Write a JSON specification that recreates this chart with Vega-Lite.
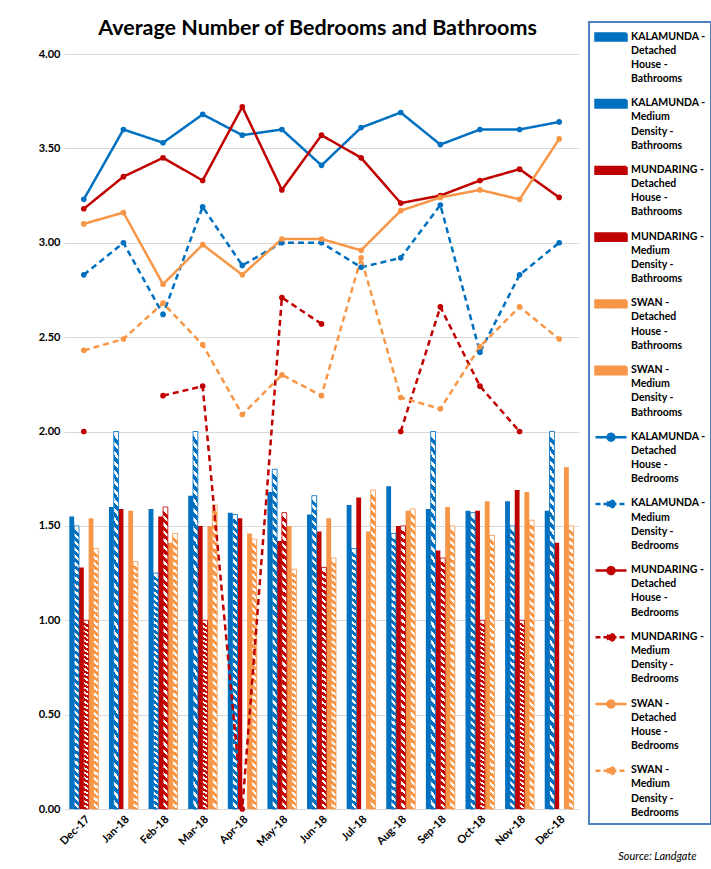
{
  "$schema": "https://vega.github.io/schema/vega-lite/v6.json",
  "width": 515,
  "height": 755,
  "padding": {"left": 38, "top": 17, "right": 2, "bottom": 5},
  "background": "white",
  "title": {"text": "Average Number of Bedrooms and Bathrooms", "font": "Lato", "fontSize": 21.5, "fontWeight": "bold", "color": "#000000", "frame": "group", "anchor": "middle", "baseline": "bottom", "offset": -18, "dx": -4, "dy": 22},
  "data": {"values": [
    {"month":"Dec-17","series":"KALAMUNDA - Detached House - Bathrooms","value":1.55},
    {"month":"Jan-18","series":"KALAMUNDA - Detached House - Bathrooms","value":1.60},
    {"month":"Feb-18","series":"KALAMUNDA - Detached House - Bathrooms","value":1.59},
    {"month":"Mar-18","series":"KALAMUNDA - Detached House - Bathrooms","value":1.66},
    {"month":"Apr-18","series":"KALAMUNDA - Detached House - Bathrooms","value":1.57},
    {"month":"May-18","series":"KALAMUNDA - Detached House - Bathrooms","value":1.68},
    {"month":"Jun-18","series":"KALAMUNDA - Detached House - Bathrooms","value":1.56},
    {"month":"Jul-18","series":"KALAMUNDA - Detached House - Bathrooms","value":1.61},
    {"month":"Aug-18","series":"KALAMUNDA - Detached House - Bathrooms","value":1.71},
    {"month":"Sep-18","series":"KALAMUNDA - Detached House - Bathrooms","value":1.59},
    {"month":"Oct-18","series":"KALAMUNDA - Detached House - Bathrooms","value":1.58},
    {"month":"Nov-18","series":"KALAMUNDA - Detached House - Bathrooms","value":1.63},
    {"month":"Dec-18","series":"KALAMUNDA - Detached House - Bathrooms","value":1.58},
    {"month":"Dec-17","series":"KALAMUNDA - Medium Density - Bathrooms","value":1.50},
    {"month":"Jan-18","series":"KALAMUNDA - Medium Density - Bathrooms","value":2.00},
    {"month":"Feb-18","series":"KALAMUNDA - Medium Density - Bathrooms","value":1.25},
    {"month":"Mar-18","series":"KALAMUNDA - Medium Density - Bathrooms","value":2.00},
    {"month":"Apr-18","series":"KALAMUNDA - Medium Density - Bathrooms","value":1.56},
    {"month":"May-18","series":"KALAMUNDA - Medium Density - Bathrooms","value":1.80},
    {"month":"Jun-18","series":"KALAMUNDA - Medium Density - Bathrooms","value":1.66},
    {"month":"Jul-18","series":"KALAMUNDA - Medium Density - Bathrooms","value":1.38},
    {"month":"Aug-18","series":"KALAMUNDA - Medium Density - Bathrooms","value":1.46},
    {"month":"Sep-18","series":"KALAMUNDA - Medium Density - Bathrooms","value":2.00},
    {"month":"Oct-18","series":"KALAMUNDA - Medium Density - Bathrooms","value":1.57},
    {"month":"Nov-18","series":"KALAMUNDA - Medium Density - Bathrooms","value":1.50},
    {"month":"Dec-18","series":"KALAMUNDA - Medium Density - Bathrooms","value":2.00},
    {"month":"Dec-17","series":"MUNDARING - Detached House - Bathrooms","value":1.28},
    {"month":"Jan-18","series":"MUNDARING - Detached House - Bathrooms","value":1.59},
    {"month":"Feb-18","series":"MUNDARING - Detached House - Bathrooms","value":1.55},
    {"month":"Mar-18","series":"MUNDARING - Detached House - Bathrooms","value":1.50},
    {"month":"Apr-18","series":"MUNDARING - Detached House - Bathrooms","value":1.54},
    {"month":"May-18","series":"MUNDARING - Detached House - Bathrooms","value":1.42},
    {"month":"Jun-18","series":"MUNDARING - Detached House - Bathrooms","value":1.47},
    {"month":"Jul-18","series":"MUNDARING - Detached House - Bathrooms","value":1.65},
    {"month":"Aug-18","series":"MUNDARING - Detached House - Bathrooms","value":1.50},
    {"month":"Sep-18","series":"MUNDARING - Detached House - Bathrooms","value":1.37},
    {"month":"Oct-18","series":"MUNDARING - Detached House - Bathrooms","value":1.58},
    {"month":"Nov-18","series":"MUNDARING - Detached House - Bathrooms","value":1.69},
    {"month":"Dec-18","series":"MUNDARING - Detached House - Bathrooms","value":1.41},
    {"month":"Dec-17","series":"MUNDARING - Medium Density - Bathrooms","value":1.00},
    {"month":"Feb-18","series":"MUNDARING - Medium Density - Bathrooms","value":1.60},
    {"month":"Mar-18","series":"MUNDARING - Medium Density - Bathrooms","value":1.00},
    {"month":"May-18","series":"MUNDARING - Medium Density - Bathrooms","value":1.57},
    {"month":"Jun-18","series":"MUNDARING - Medium Density - Bathrooms","value":1.28},
    {"month":"Aug-18","series":"MUNDARING - Medium Density - Bathrooms","value":1.50},
    {"month":"Sep-18","series":"MUNDARING - Medium Density - Bathrooms","value":1.33},
    {"month":"Oct-18","series":"MUNDARING - Medium Density - Bathrooms","value":1.00},
    {"month":"Nov-18","series":"MUNDARING - Medium Density - Bathrooms","value":1.00},
    {"month":"Dec-17","series":"SWAN - Detached House - Bathrooms","value":1.54},
    {"month":"Jan-18","series":"SWAN - Detached House - Bathrooms","value":1.58},
    {"month":"Feb-18","series":"SWAN - Detached House - Bathrooms","value":1.41},
    {"month":"Mar-18","series":"SWAN - Detached House - Bathrooms","value":1.50},
    {"month":"Apr-18","series":"SWAN - Detached House - Bathrooms","value":1.46},
    {"month":"May-18","series":"SWAN - Detached House - Bathrooms","value":1.50},
    {"month":"Jun-18","series":"SWAN - Detached House - Bathrooms","value":1.54},
    {"month":"Jul-18","series":"SWAN - Detached House - Bathrooms","value":1.47},
    {"month":"Aug-18","series":"SWAN - Detached House - Bathrooms","value":1.58},
    {"month":"Sep-18","series":"SWAN - Detached House - Bathrooms","value":1.60},
    {"month":"Oct-18","series":"SWAN - Detached House - Bathrooms","value":1.63},
    {"month":"Nov-18","series":"SWAN - Detached House - Bathrooms","value":1.68},
    {"month":"Dec-18","series":"SWAN - Detached House - Bathrooms","value":1.81},
    {"month":"Dec-17","series":"SWAN - Medium Density - Bathrooms","value":1.38},
    {"month":"Jan-18","series":"SWAN - Medium Density - Bathrooms","value":1.31},
    {"month":"Feb-18","series":"SWAN - Medium Density - Bathrooms","value":1.46},
    {"month":"Mar-18","series":"SWAN - Medium Density - Bathrooms","value":1.61},
    {"month":"Apr-18","series":"SWAN - Medium Density - Bathrooms","value":1.43},
    {"month":"May-18","series":"SWAN - Medium Density - Bathrooms","value":1.27},
    {"month":"Jun-18","series":"SWAN - Medium Density - Bathrooms","value":1.33},
    {"month":"Jul-18","series":"SWAN - Medium Density - Bathrooms","value":1.69},
    {"month":"Aug-18","series":"SWAN - Medium Density - Bathrooms","value":1.59},
    {"month":"Sep-18","series":"SWAN - Medium Density - Bathrooms","value":1.50},
    {"month":"Oct-18","series":"SWAN - Medium Density - Bathrooms","value":1.45},
    {"month":"Nov-18","series":"SWAN - Medium Density - Bathrooms","value":1.53},
    {"month":"Dec-18","series":"SWAN - Medium Density - Bathrooms","value":1.50},
    {"month":"Dec-17","series":"KALAMUNDA - Detached House - Bedrooms","value":3.23},
    {"month":"Jan-18","series":"KALAMUNDA - Detached House - Bedrooms","value":3.60},
    {"month":"Feb-18","series":"KALAMUNDA - Detached House - Bedrooms","value":3.53},
    {"month":"Mar-18","series":"KALAMUNDA - Detached House - Bedrooms","value":3.68},
    {"month":"Apr-18","series":"KALAMUNDA - Detached House - Bedrooms","value":3.57},
    {"month":"May-18","series":"KALAMUNDA - Detached House - Bedrooms","value":3.60},
    {"month":"Jun-18","series":"KALAMUNDA - Detached House - Bedrooms","value":3.41},
    {"month":"Jul-18","series":"KALAMUNDA - Detached House - Bedrooms","value":3.61},
    {"month":"Aug-18","series":"KALAMUNDA - Detached House - Bedrooms","value":3.69},
    {"month":"Sep-18","series":"KALAMUNDA - Detached House - Bedrooms","value":3.52},
    {"month":"Oct-18","series":"KALAMUNDA - Detached House - Bedrooms","value":3.60},
    {"month":"Nov-18","series":"KALAMUNDA - Detached House - Bedrooms","value":3.60},
    {"month":"Dec-18","series":"KALAMUNDA - Detached House - Bedrooms","value":3.64},
    {"month":"Dec-17","series":"KALAMUNDA - Medium Density - Bedrooms","value":2.83},
    {"month":"Jan-18","series":"KALAMUNDA - Medium Density - Bedrooms","value":3.00},
    {"month":"Feb-18","series":"KALAMUNDA - Medium Density - Bedrooms","value":2.62},
    {"month":"Mar-18","series":"KALAMUNDA - Medium Density - Bedrooms","value":3.19},
    {"month":"Apr-18","series":"KALAMUNDA - Medium Density - Bedrooms","value":2.88},
    {"month":"May-18","series":"KALAMUNDA - Medium Density - Bedrooms","value":3.00},
    {"month":"Jun-18","series":"KALAMUNDA - Medium Density - Bedrooms","value":3.00},
    {"month":"Jul-18","series":"KALAMUNDA - Medium Density - Bedrooms","value":2.87},
    {"month":"Aug-18","series":"KALAMUNDA - Medium Density - Bedrooms","value":2.92},
    {"month":"Sep-18","series":"KALAMUNDA - Medium Density - Bedrooms","value":3.20},
    {"month":"Oct-18","series":"KALAMUNDA - Medium Density - Bedrooms","value":2.42},
    {"month":"Nov-18","series":"KALAMUNDA - Medium Density - Bedrooms","value":2.83},
    {"month":"Dec-18","series":"KALAMUNDA - Medium Density - Bedrooms","value":3.00},
    {"month":"Dec-17","series":"MUNDARING - Detached House - Bedrooms","value":3.18},
    {"month":"Jan-18","series":"MUNDARING - Detached House - Bedrooms","value":3.35},
    {"month":"Feb-18","series":"MUNDARING - Detached House - Bedrooms","value":3.45},
    {"month":"Mar-18","series":"MUNDARING - Detached House - Bedrooms","value":3.33},
    {"month":"Apr-18","series":"MUNDARING - Detached House - Bedrooms","value":3.72},
    {"month":"May-18","series":"MUNDARING - Detached House - Bedrooms","value":3.28},
    {"month":"Jun-18","series":"MUNDARING - Detached House - Bedrooms","value":3.57},
    {"month":"Jul-18","series":"MUNDARING - Detached House - Bedrooms","value":3.45},
    {"month":"Aug-18","series":"MUNDARING - Detached House - Bedrooms","value":3.21},
    {"month":"Sep-18","series":"MUNDARING - Detached House - Bedrooms","value":3.25},
    {"month":"Oct-18","series":"MUNDARING - Detached House - Bedrooms","value":3.33},
    {"month":"Nov-18","series":"MUNDARING - Detached House - Bedrooms","value":3.39},
    {"month":"Dec-18","series":"MUNDARING - Detached House - Bedrooms","value":3.24},
    {"month":"Dec-17","series":"MUNDARING - Medium Density - Bedrooms","value":2.00},
    {"month":"Jan-18","series":"MUNDARING - Medium Density - Bedrooms","value":null},
    {"month":"Feb-18","series":"MUNDARING - Medium Density - Bedrooms","value":2.19},
    {"month":"Mar-18","series":"MUNDARING - Medium Density - Bedrooms","value":2.24},
    {"month":"Apr-18","series":"MUNDARING - Medium Density - Bedrooms","value":0.00},
    {"month":"May-18","series":"MUNDARING - Medium Density - Bedrooms","value":2.71},
    {"month":"Jun-18","series":"MUNDARING - Medium Density - Bedrooms","value":2.57},
    {"month":"Jul-18","series":"MUNDARING - Medium Density - Bedrooms","value":null},
    {"month":"Aug-18","series":"MUNDARING - Medium Density - Bedrooms","value":2.00},
    {"month":"Sep-18","series":"MUNDARING - Medium Density - Bedrooms","value":2.66},
    {"month":"Oct-18","series":"MUNDARING - Medium Density - Bedrooms","value":2.24},
    {"month":"Nov-18","series":"MUNDARING - Medium Density - Bedrooms","value":2.00},
    {"month":"Dec-18","series":"MUNDARING - Medium Density - Bedrooms","value":null},
    {"month":"Dec-17","series":"SWAN - Detached House - Bedrooms","value":3.10},
    {"month":"Jan-18","series":"SWAN - Detached House - Bedrooms","value":3.16},
    {"month":"Feb-18","series":"SWAN - Detached House - Bedrooms","value":2.78},
    {"month":"Mar-18","series":"SWAN - Detached House - Bedrooms","value":2.99},
    {"month":"Apr-18","series":"SWAN - Detached House - Bedrooms","value":2.83},
    {"month":"May-18","series":"SWAN - Detached House - Bedrooms","value":3.02},
    {"month":"Jun-18","series":"SWAN - Detached House - Bedrooms","value":3.02},
    {"month":"Jul-18","series":"SWAN - Detached House - Bedrooms","value":2.96},
    {"month":"Aug-18","series":"SWAN - Detached House - Bedrooms","value":3.17},
    {"month":"Sep-18","series":"SWAN - Detached House - Bedrooms","value":3.24},
    {"month":"Oct-18","series":"SWAN - Detached House - Bedrooms","value":3.28},
    {"month":"Nov-18","series":"SWAN - Detached House - Bedrooms","value":3.23},
    {"month":"Dec-18","series":"SWAN - Detached House - Bedrooms","value":3.55},
    {"month":"Dec-17","series":"SWAN - Medium Density - Bedrooms","value":2.43},
    {"month":"Jan-18","series":"SWAN - Medium Density - Bedrooms","value":2.49},
    {"month":"Feb-18","series":"SWAN - Medium Density - Bedrooms","value":2.68},
    {"month":"Mar-18","series":"SWAN - Medium Density - Bedrooms","value":2.46},
    {"month":"Apr-18","series":"SWAN - Medium Density - Bedrooms","value":2.09},
    {"month":"May-18","series":"SWAN - Medium Density - Bedrooms","value":2.30},
    {"month":"Jun-18","series":"SWAN - Medium Density - Bedrooms","value":2.19},
    {"month":"Jul-18","series":"SWAN - Medium Density - Bedrooms","value":2.92},
    {"month":"Aug-18","series":"SWAN - Medium Density - Bedrooms","value":2.18},
    {"month":"Sep-18","series":"SWAN - Medium Density - Bedrooms","value":2.12},
    {"month":"Oct-18","series":"SWAN - Medium Density - Bedrooms","value":2.45},
    {"month":"Nov-18","series":"SWAN - Medium Density - Bedrooms","value":2.66},
    {"month":"Dec-18","series":"SWAN - Medium Density - Bedrooms","value":2.49}
  ]},
  "encoding": {
    "x": {"field": "month", "type": "nominal",
      "sort": ["Dec-17","Jan-18","Feb-18","Mar-18","Apr-18","May-18","Jun-18","Jul-18","Aug-18","Sep-18","Oct-18","Nov-18","Dec-18"],
      "scale": {"paddingInner": 0.27, "paddingOuter": 0.135},
      "axis": {"title": "Source: Landgate", "labelAngle": -45, "labelFont": "Lato", "labelFontSize": 11, "labelFontWeight": "bold", "labelColor": "#000000", "ticks": false, "domain": false, "grid": false, "labelPadding": 4,
        "titleFont": "Lato", "titleFontSize": 11, "titleFontStyle": "italic", "titleFontWeight": "normal", "titleColor": "#000000", "titleAlign": "right", "titleX": 632, "titleY": 47, "titleBaseline": "middle"}},
    "y": {"field": "value", "type": "quantitative", "stack": null,
      "scale": {"domain": [0, 4], "nice": false},
      "axis": {"values": [0, 0.5, 1, 1.5, 2, 2.5, 3, 3.5, 4], "format": ".2f", "title": null, "ticks": false, "domain": false, "labelPadding": 4, "labelFont": "Lato", "labelFontSize": 11, "labelFontWeight": "bold", "labelColor": "#000000", "gridColor": "#D9D9D9", "gridWidth": 1}}
  },
  "layer": [
    {
      "transform": [{"filter": "indexof(datum.series, 'Bathrooms') >= 0"}],
      "mark": {"type": "bar"},
      "encoding": {
        "xOffset": {"field": "series", "type": "nominal", "scale": {"domain": ["KALAMUNDA - Detached House - Bathrooms","KALAMUNDA - Medium Density - Bathrooms","MUNDARING - Detached House - Bathrooms","MUNDARING - Medium Density - Bathrooms","SWAN - Detached House - Bathrooms","SWAN - Medium Density - Bathrooms"], "paddingInner": 0, "paddingOuter": 0}},
        "color": {"field": "series", "type": "nominal",
          "scale": {"domain": ["KALAMUNDA - Detached House - Bathrooms","KALAMUNDA - Medium Density - Bathrooms","MUNDARING - Detached House - Bathrooms","MUNDARING - Medium Density - Bathrooms","SWAN - Detached House - Bathrooms","SWAN - Medium Density - Bathrooms","KALAMUNDA - Detached House - Bedrooms","KALAMUNDA - Medium Density - Bedrooms","MUNDARING - Detached House - Bedrooms","MUNDARING - Medium Density - Bedrooms","SWAN - Detached House - Bedrooms","SWAN - Medium Density - Bedrooms"],
            "range": ["#0070C0","#0070C0","#C00000","#C00000","#F79646","#F79646","#0070C0","#0070C0","#C00000","#C00000","#F79646","#F79646"]},
          "legend": {"title": null, "orient": "none", "legendX": 525, "legendY": -32, "direction": "vertical", "padding": 5, "strokeColor": "#4F81BD",
            "labelFont": "Lato", "labelFontSize": 10.5, "labelFontWeight": "bold", "labelColor": "#000000", "labelBaseline": "top", "labelOffset": 3, "labelLimit": 200,
            "labelExpr": "split(replace(replace(datum.label, / /g, '|'), /\\|-\\|/g, ' -|'), '|')",
            "symbolSize": 961, "symbolOpacity": 1, "symbolStrokeWidth": 2.5, "rowPadding": 8.7,
            "encode": {
              "symbols": {"update": {
                "y": {"value": 10},
                "shape": {"signal": "indexof(datum.value, 'Medium Density - Bathrooms') >= 0 ? 'M-1,-0.24H1V0.24H-1ZM-0.93,-0.17V0.17H0.93V-0.17ZM-0.93,-0.17H-0.73L-0.53,0.17H-0.73ZM-0.56,-0.17H-0.36L-0.16,0.17H-0.36ZM-0.19,-0.17H0.01L0.21,0.17H0.01ZM0.18,-0.17H0.38L0.58,0.17H0.38ZM0.53,-0.17H0.73L0.93,0.17H0.73Z' : (indexof(datum.value, 'Bathrooms') >= 0 ? 'M-1,-0.22H1V0.22H-1Z' : 'M-1,0H1M0.22,0A0.22,0.22,0,1,1,-0.22,0A0.22,0.22,0,1,1,0.22,0Z')"},
                "fill": {"signal": "scale('color', datum.value)"},
                "stroke": {"signal": "indexof(datum.value, 'Bedrooms') >= 0 ? scale('color', datum.value) : 'transparent'"},
                "strokeDash": {"signal": "indexof(datum.value, 'Medium Density - Bedrooms') >= 0 ? [5, 3] : [1, 0]"},
                "opacity": {"value": 1},
                "fillOpacity": {"value": 1}
              }},
              "labels": {"update": {"y": {"value": 10}, "dy": {"value": -5.5}, "lineHeight": {"value": 14.2}}},
              "legend": {"update": {"strokeWidth": {"value": 2}}}
            }
          }
        }
      }
    },
    {
      "transform": [{"filter": "indexof(datum.series, 'Medium Density - Bathrooms') >= 0"}],
      "mark": {"type": "bar", "strokeWidth": 0.8, "fill": {"gradient": "linear", "x1": 0.015, "y1": 0, "x2": 0, "y2": 1, "stops": [
        {"offset":0,"color":"white"},{"offset":0.0112,"color":"white"},{"offset":0.0112,"color":"transparent"},{"offset":0.025,"color":"transparent"},
        {"offset":0.025,"color":"white"},{"offset":0.0362,"color":"white"},{"offset":0.0362,"color":"transparent"},{"offset":0.05,"color":"transparent"},
        {"offset":0.05,"color":"white"},{"offset":0.0612,"color":"white"},{"offset":0.0612,"color":"transparent"},{"offset":0.075,"color":"transparent"},
        {"offset":0.075,"color":"white"},{"offset":0.0862,"color":"white"},{"offset":0.0862,"color":"transparent"},{"offset":0.1,"color":"transparent"},
        {"offset":0.1,"color":"white"},{"offset":0.1112,"color":"white"},{"offset":0.1112,"color":"transparent"},{"offset":0.125,"color":"transparent"},
        {"offset":0.125,"color":"white"},{"offset":0.1362,"color":"white"},{"offset":0.1362,"color":"transparent"},{"offset":0.15,"color":"transparent"},
        {"offset":0.15,"color":"white"},{"offset":0.1612,"color":"white"},{"offset":0.1612,"color":"transparent"},{"offset":0.175,"color":"transparent"},
        {"offset":0.175,"color":"white"},{"offset":0.1862,"color":"white"},{"offset":0.1862,"color":"transparent"},{"offset":0.2,"color":"transparent"},
        {"offset":0.2,"color":"white"},{"offset":0.2112,"color":"white"},{"offset":0.2112,"color":"transparent"},{"offset":0.225,"color":"transparent"},
        {"offset":0.225,"color":"white"},{"offset":0.2362,"color":"white"},{"offset":0.2362,"color":"transparent"},{"offset":0.25,"color":"transparent"},
        {"offset":0.25,"color":"white"},{"offset":0.2612,"color":"white"},{"offset":0.2612,"color":"transparent"},{"offset":0.275,"color":"transparent"},
        {"offset":0.275,"color":"white"},{"offset":0.2862,"color":"white"},{"offset":0.2862,"color":"transparent"},{"offset":0.3,"color":"transparent"},
        {"offset":0.3,"color":"white"},{"offset":0.3112,"color":"white"},{"offset":0.3112,"color":"transparent"},{"offset":0.325,"color":"transparent"},
        {"offset":0.325,"color":"white"},{"offset":0.3362,"color":"white"},{"offset":0.3362,"color":"transparent"},{"offset":0.35,"color":"transparent"},
        {"offset":0.35,"color":"white"},{"offset":0.3612,"color":"white"},{"offset":0.3612,"color":"transparent"},{"offset":0.375,"color":"transparent"},
        {"offset":0.375,"color":"white"},{"offset":0.3862,"color":"white"},{"offset":0.3862,"color":"transparent"},{"offset":0.4,"color":"transparent"},
        {"offset":0.4,"color":"white"},{"offset":0.4112,"color":"white"},{"offset":0.4112,"color":"transparent"},{"offset":0.425,"color":"transparent"},
        {"offset":0.425,"color":"white"},{"offset":0.4362,"color":"white"},{"offset":0.4362,"color":"transparent"},{"offset":0.45,"color":"transparent"},
        {"offset":0.45,"color":"white"},{"offset":0.4612,"color":"white"},{"offset":0.4612,"color":"transparent"},{"offset":0.475,"color":"transparent"},
        {"offset":0.475,"color":"white"},{"offset":0.4862,"color":"white"},{"offset":0.4862,"color":"transparent"},{"offset":0.5,"color":"transparent"},
        {"offset":0.5,"color":"white"},{"offset":0.5112,"color":"white"},{"offset":0.5112,"color":"transparent"},{"offset":0.525,"color":"transparent"},
        {"offset":0.525,"color":"white"},{"offset":0.5362,"color":"white"},{"offset":0.5362,"color":"transparent"},{"offset":0.55,"color":"transparent"},
        {"offset":0.55,"color":"white"},{"offset":0.5612,"color":"white"},{"offset":0.5612,"color":"transparent"},{"offset":0.575,"color":"transparent"},
        {"offset":0.575,"color":"white"},{"offset":0.5862,"color":"white"},{"offset":0.5862,"color":"transparent"},{"offset":0.6,"color":"transparent"},
        {"offset":0.6,"color":"white"},{"offset":0.6112,"color":"white"},{"offset":0.6112,"color":"transparent"},{"offset":0.625,"color":"transparent"},
        {"offset":0.625,"color":"white"},{"offset":0.6362,"color":"white"},{"offset":0.6362,"color":"transparent"},{"offset":0.65,"color":"transparent"},
        {"offset":0.65,"color":"white"},{"offset":0.6612,"color":"white"},{"offset":0.6612,"color":"transparent"},{"offset":0.675,"color":"transparent"},
        {"offset":0.675,"color":"white"},{"offset":0.6862,"color":"white"},{"offset":0.6862,"color":"transparent"},{"offset":0.7,"color":"transparent"},
        {"offset":0.7,"color":"white"},{"offset":0.7112,"color":"white"},{"offset":0.7112,"color":"transparent"},{"offset":0.725,"color":"transparent"},
        {"offset":0.725,"color":"white"},{"offset":0.7362,"color":"white"},{"offset":0.7362,"color":"transparent"},{"offset":0.75,"color":"transparent"},
        {"offset":0.75,"color":"white"},{"offset":0.7612,"color":"white"},{"offset":0.7612,"color":"transparent"},{"offset":0.775,"color":"transparent"},
        {"offset":0.775,"color":"white"},{"offset":0.7862,"color":"white"},{"offset":0.7862,"color":"transparent"},{"offset":0.8,"color":"transparent"},
        {"offset":0.8,"color":"white"},{"offset":0.8112,"color":"white"},{"offset":0.8112,"color":"transparent"},{"offset":0.825,"color":"transparent"},
        {"offset":0.825,"color":"white"},{"offset":0.8362,"color":"white"},{"offset":0.8362,"color":"transparent"},{"offset":0.85,"color":"transparent"},
        {"offset":0.85,"color":"white"},{"offset":0.8612,"color":"white"},{"offset":0.8612,"color":"transparent"},{"offset":0.875,"color":"transparent"},
        {"offset":0.875,"color":"white"},{"offset":0.8862,"color":"white"},{"offset":0.8862,"color":"transparent"},{"offset":0.9,"color":"transparent"},
        {"offset":0.9,"color":"white"},{"offset":0.9112,"color":"white"},{"offset":0.9112,"color":"transparent"},{"offset":0.925,"color":"transparent"},
        {"offset":0.925,"color":"white"},{"offset":0.9362,"color":"white"},{"offset":0.9362,"color":"transparent"},{"offset":0.95,"color":"transparent"},
        {"offset":0.95,"color":"white"},{"offset":0.9612,"color":"white"},{"offset":0.9612,"color":"transparent"},{"offset":0.975,"color":"transparent"},
        {"offset":0.975,"color":"white"},{"offset":0.9862,"color":"white"},{"offset":0.9862,"color":"transparent"},{"offset":1,"color":"transparent"}
      ]}},
      "encoding": {
        "xOffset": {"field": "series", "type": "nominal", "scale": {"domain": ["KALAMUNDA - Detached House - Bathrooms","KALAMUNDA - Medium Density - Bathrooms","MUNDARING - Detached House - Bathrooms","MUNDARING - Medium Density - Bathrooms","SWAN - Detached House - Bathrooms","SWAN - Medium Density - Bathrooms"], "paddingInner": 0, "paddingOuter": 0}},
        "stroke": {"field": "series", "type": "nominal", "scale": {"domain": ["KALAMUNDA - Medium Density - Bathrooms","MUNDARING - Medium Density - Bathrooms","SWAN - Medium Density - Bathrooms"], "range": ["#0070C0","#C00000","#F79646"]}, "legend": null}
      }
    },
    {
      "transform": [{"filter": "indexof(datum.series, 'Bedrooms') >= 0"}],
      "mark": {"type": "line", "strokeWidth": 2.5},
      "encoding": {
        "color": {"field": "series", "type": "nominal"},
        "strokeDash": {"field": "series", "type": "nominal", "scale": {"domain": ["KALAMUNDA - Detached House - Bedrooms","KALAMUNDA - Medium Density - Bedrooms","MUNDARING - Detached House - Bedrooms","MUNDARING - Medium Density - Bedrooms","SWAN - Detached House - Bedrooms","SWAN - Medium Density - Bedrooms"], "range": [[1,0],[6,4],[1,0],[6,4],[1,0],[6,4]]}, "legend": null}
      }
    },
    {
      "transform": [{"filter": "indexof(datum.series, 'Bedrooms') >= 0"}],
      "mark": {"type": "point", "filled": true, "size": 32, "opacity": 1},
      "encoding": {
        "color": {"field": "series", "type": "nominal"}
      }
    }
  ],
  "config": {"view": {"stroke": null}}
}
